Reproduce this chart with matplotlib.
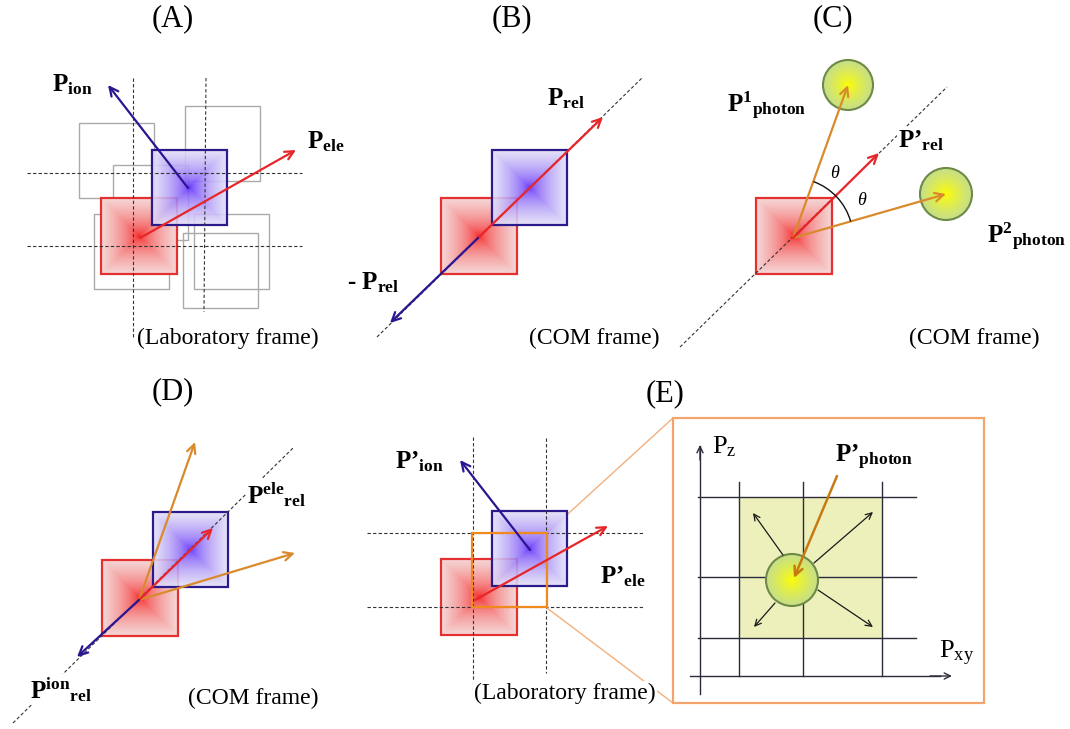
import numpy as np
import matplotlib
matplotlib.use('Agg')
import matplotlib.pyplot as plt
from matplotlib.patches import Rectangle, Circle, Arc

plt.rcParams['font.family'] = 'Liberation Serif'
plt.rcParams['mathtext.fontset'] = 'custom'
plt.rcParams['mathtext.rm'] = 'Liberation Serif'
plt.rcParams['mathtext.bf'] = 'Liberation Serif:bold'
plt.rcParams['mathtext.it'] = 'Liberation Serif:italic'

# panel titles and frame captions
titles = ['(A)', '(B)', '(C)', '(D)', '(E)']
title_xy = [(173, 19), (512, 19), (833, 19), (173, 392), (665, 394)]
frames = ['(Laboratory frame)', '(COM frame)', '(COM frame)', '(COM frame)', '(Laboratory frame)']
frame_xy = [(228, 338), (594, 338), (974, 338), (253, 698), (565, 693)]

# squares (top-left corner, side)
red_sq = [(101, 198), (441, 198), (756, 198), (102, 560), (441, 559)]
blue_sq = [(152, 150), (492, 150), (153, 512), (492, 511)]
sq_side = 76
gray_sq = [(79, 123), (113, 165), (185, 106), (94, 214), (194, 214), (183, 233)]

# dashed guide lines
dashes = [((27, 173), (302, 173)), ((27, 246), (302, 246)), ((133, 78), (133, 337)), ((206, 78), (204, 312)),
          ((377, 337), (643, 77)), ((680, 347), (947, 87)), ((13, 723), (293, 448)),
          ((367, 533), (643, 533)), ((367, 607), (643, 607)), ((473, 437), (473, 690)), ((546, 438), (546, 673))]

# arrows: start, end, colour
RED = '#E8262A'
BLUE = '#2A1690'
ORANGE = '#D98A2B'
arrows = [((188, 188), (108, 85), BLUE), ((140, 238), (296, 150), RED),
          ((478, 238), (603, 117), RED), ((478, 238), (390, 323), BLUE),
          ((793, 238), (848, 85), ORANGE), ((793, 238), (946, 194), ORANGE), ((793, 238), (879, 153), RED),
          ((139, 600), (195, 442), ORANGE), ((139, 600), (295, 553), ORANGE),
          ((139, 600), (213, 528), RED), ((139, 600), (77, 657), BLUE),
          ((530, 550), (460, 460), BLUE), ((475, 600), (608, 526), RED)]

# photon circles (centre, radius)
photons = [((848, 85), 25), ((946, 194), 26), ((792, 580), 26)]

# bold momentum labels
labels = [(r'$\mathbf{P}_{\mathbf{ion}}$', 52, 91), (r'$\mathbf{P}_{\mathbf{ele}}$', 307, 148),
          (r'$\mathbf{P}_{\mathbf{rel}}$', 547, 105), (r'- $\mathbf{P}_{\mathbf{rel}}$', 347, 289),
          (r'$\mathbf{P}^{\mathbf{1}}{}_{\mathbf{photon}}$', 727, 112),
          (r'$\mathbf{P’}_{\mathbf{rel}}$', 898, 147),
          (r'$\mathbf{P}^{\mathbf{2}}{}_{\mathbf{photon}}$', 987, 243),
          (r'$\mathbf{P}^{\mathbf{ele}}{}_{\mathbf{rel}}$', 247, 503),
          (r'$\mathbf{P}^{\mathbf{ion}}{}_{\mathbf{rel}}$', 30, 698),
          (r'$\mathbf{P’}_{\mathbf{ion}}$', 395, 468), (r'$\mathbf{P’}_{\mathbf{ele}}$', 600, 583),
          (r'$\mathbf{P’}_{\mathbf{photon}}$', 835, 462)]

# inset (E) detector grid
inset_box = (673, 418, 311, 285)
grid_x = [739, 803, 882]
grid_y = [497, 577, 638]
axis_x = 700
axis_y = 676
cell_fill = (739, 497, 143, 141)
photon_in = ((837, 476), (794, 578))
spread = [((783, 555), (753, 513)), ((814, 563), (873, 512)), ((775, 603), (754, 627)), ((818, 590), (873, 627))]


def grad_square(ax, x0, y0, s, c_mid, c_edge, ec, z, alpha=1.0):
    u = np.linspace(-1, 1, 120)
    U, V = np.meshgrid(u, u)
    f = np.maximum(np.abs(U), np.abs(V)) ** 0.55
    img = np.array(c_mid)[None, None, :] * (1 - f[..., None]) + np.array(c_edge)[None, None, :] * f[..., None]
    img = np.dstack([img / 255.0, np.full(f.shape, alpha)])
    ax.imshow(img, extent=(x0, x0 + s, y0 + s, y0), zorder=z, interpolation='bilinear')
    ax.add_patch(Rectangle((x0, y0), s, s, fill=False, ec=ec, lw=1.6, zorder=z + 0.1))


def photon(ax, c, r, z):
    u = np.linspace(-1, 1, 120)
    U, V = np.meshgrid(u, u)
    d = np.clip(np.hypot(U, V), 0, 1) ** 0.8
    mid = np.array([255, 255, 0])
    edge = np.array([198, 222, 140])
    img = (mid[None, None, :] * (1 - d[..., None]) + edge[None, None, :] * d[..., None]) / 255.0
    im = ax.imshow(img, extent=(c[0] - r, c[0] + r, c[1] + r, c[1] - r), zorder=z, interpolation='bilinear')
    clip = Circle(c, r, transform=ax.transData)
    im.set_clip_path(clip)
    ax.add_patch(Circle(c, r, fill=False, ec='#6E8A45', lw=1.5, zorder=z + 0.1))


def arrow(ax, p0, p1, col, lw=1.6, z=6, ms=14):
    ax.annotate('', xy=p1, xytext=p0,
                arrowprops=dict(arrowstyle='->,head_length=0.45,head_width=0.22', color=col, lw=lw,
                                shrinkA=0, shrinkB=0, mutation_scale=ms), zorder=z)


fig = plt.figure(figsize=(10.7, 7.29), dpi=100)
ax = fig.add_axes([0, 0, 1, 1])

for (x, y) in gray_sq:
    ax.add_patch(Rectangle((x, y), 75, 75, fill=False, ec='#AAAAAA', lw=1.0, zorder=1))

for (x, y) in red_sq:
    grad_square(ax, x, y, sq_side, (245, 25, 25), (246, 215, 215), '#E53030', 3)
for (x, y) in blue_sq:
    grad_square(ax, x, y, sq_side - 1, (70, 10, 250), (228, 224, 248), '#2A1A8C', 3.5, alpha=0.88)

for p0, p1 in dashes:
    ax.plot([p0[0], p1[0]], [p0[1], p1[1]], color='#333333', lw=0.8, ls=(0, (3, 2)), zorder=5)

# orange zoom box + connectors
ax.add_patch(Rectangle((472, 533), 75, 74, fill=False, ec='#F08A1E', lw=1.6, zorder=5.5))
ax.plot([547, 673], [533, 418], color='#F2B07E', lw=1.0, zorder=1)
ax.plot([547, 673], [608, 703], color='#F2B07E', lw=1.0, zorder=1)
bx, by, bw, bh = inset_box
ax.add_patch(Rectangle((bx, by), bw, bh, fill=False, ec='#F3A46C', lw=1.6, zorder=2))

# inset grid
fx, fy, fw, fh = cell_fill
ax.add_patch(Rectangle((fx, fy), fw, fh, fc='#EEF0BC', ec='none', zorder=2))
for gy in grid_y:
    ax.plot([axis_x - 2, 916], [gy, gy], color='#2B2B3B', lw=1.0, zorder=3)
for gx in grid_x:
    ax.plot([gx, gx], [482, axis_y], color='#2B2B3B', lw=1.0, zorder=3)
ax.plot([axis_x, axis_x], [694, 446], color='#2B2B3B', lw=1.0, zorder=3)
arrow(ax, (axis_x, 460), (axis_x, 445), '#2B2B3B', lw=1.0, z=3, ms=10)
ax.plot([690, 940], [axis_y, axis_y], color='#2B2B3B', lw=1.0, zorder=3)
arrow(ax, (930, axis_y), (952, axis_y), '#2B2B3B', lw=1.0, z=3, ms=10)

for c, r in photons:
    photon(ax, c, r, 4)

for p0, p1 in spread:
    arrow(ax, p0, p1, '#1A1A1A', lw=0.9, z=5, ms=10)
arrow(ax, photon_in[0], photon_in[1], '#C77A12', lw=1.8, z=6)

for p0, p1, col in arrows:
    arrow(ax, p0, p1, col)

# theta arc in (C)
ax.add_patch(Arc((793, 238), 120, 120, theta1=-70, theta2=-16, color='#111111', lw=1.0, zorder=6))
ax.text(835, 173, r'$\theta$', fontsize=13, ha='center', va='center', zorder=7)
ax.text(862, 200, r'$\theta$', fontsize=13, ha='center', va='center', zorder=7)

for s, x, y in labels:
    ax.text(x, y, s, fontsize=18, fontweight='bold', ha='left', va='baseline', zorder=7,
            bbox=dict(fc='white', ec='none', pad=0.5))
ax.text(712, 453, r'$\mathrm{P}_{\mathrm{z}}$', fontsize=19, ha='left', va='baseline', zorder=7)
ax.text(939, 658, r'$\mathrm{P}_{\mathrm{xy}}$', fontsize=19, ha='left', va='baseline', zorder=7)

for t, (x, y) in zip(titles, title_xy):
    ax.text(x, y, t, fontsize=22, ha='center', va='center')
for t, (x, y) in zip(frames, frame_xy):
    ax.text(x, y, t, fontsize=17, ha='center', va='center', zorder=8,
            bbox=dict(fc='white', ec='none', pad=1))

ax.set_xlim(0, 1070)
ax.set_ylim(729, 0)
ax.set_aspect('auto')
ax.axis('off')
fig.savefig('out.png', dpi=100)
